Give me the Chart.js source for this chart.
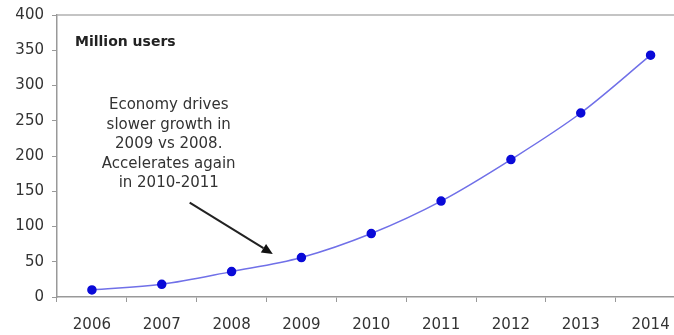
<!DOCTYPE html>
<html><head><meta charset="utf-8">
<script src="https://cdn.jsdelivr.net/npm/chart.js@4/dist/chart.umd.min.js"></script>
<style>html,body{margin:0;padding:0;background:#fff;overflow:hidden;width:674px;height:335px}</style>
</head><body>
<canvas id="c" width="691" height="335"></canvas>
<script>
const years = ['2006','2007','2008','2009','2010','2011','2012','2013','2014'];
const users = [10, 18, 36, 56, 90, 136, 195, 261, 343];
const yTicks = [0, 50, 100, 150, 200, 250, 300, 350, 400];
const unitLabel = 'Million users';
const noteLines = ['Economy drives', 'slower growth in', '2009 vs 2008.', 'Accelerates again', 'in 2010-2011'];
// annotation anchors in data space (category index, value)
const noteAnchor = [1.10, 272];
const arrowFrom = [1.40, 134];
const arrowTo = [2.59, 61];

const FONT = '"DejaVu Sans", Verdana, sans-serif';

const annot = {
  id: 'annot',
  afterDraw(chart) {
    const {ctx, chartArea: a, scales: {x, y}} = chart;
    ctx.save();
    // top border line
    ctx.strokeStyle = '#b0b0b0'; ctx.lineWidth = 1.5;
    ctx.beginPath(); ctx.moveTo(a.left, y.getPixelForValue(400)); ctx.lineTo(a.right, y.getPixelForValue(400)); ctx.stroke();
    // unit label
    ctx.fillStyle = '#222'; ctx.font = 'bold 14px ' + FONT;
    ctx.textBaseline = 'middle'; ctx.textAlign = 'left';
    ctx.fillText(unitLabel, a.left + 18, y.getPixelForValue(361));
    // note
    ctx.fillStyle = '#333'; ctx.font = '15px ' + FONT; ctx.textAlign = 'center';
    const cx = x.getPixelForValue(noteAnchor[0]);
    let cy = y.getPixelForValue(noteAnchor[1]);
    noteLines.forEach((t, i) => ctx.fillText(t, cx, cy + i * 19.5));
    // arrow
    const x1 = x.getPixelForValue(arrowFrom[0]), y1 = y.getPixelForValue(arrowFrom[1]);
    const x2 = x.getPixelForValue(arrowTo[0]), y2 = y.getPixelForValue(arrowTo[1]);
    const ang = Math.atan2(y2 - y1, x2 - x1);
    const hl = 11, hw = 5;
    const bx = x2 - hl * Math.cos(ang), by = y2 - hl * Math.sin(ang);
    ctx.strokeStyle = '#222'; ctx.lineWidth = 2;
    ctx.beginPath(); ctx.moveTo(x1, y1); ctx.lineTo(bx, by); ctx.stroke();
    ctx.fillStyle = '#111';
    ctx.beginPath();
    ctx.moveTo(x2, y2);
    ctx.lineTo(bx + hw * Math.sin(ang), by - hw * Math.cos(ang));
    ctx.lineTo(bx - hw * Math.sin(ang), by + hw * Math.cos(ang));
    ctx.closePath(); ctx.fill();
    ctx.restore();
  }
};

new Chart(document.getElementById('c'), {
  type: 'line',
  data: {
    labels: years,
    datasets: [{
      data: users,
      borderColor: '#7070e8',
      borderWidth: 1.5,
      cubicInterpolationMode: 'monotone',
      pointBackgroundColor: '#0a0ad8',
      pointBorderColor: '#0a0ad8',
      pointRadius: 4,
      fill: false
    }]
  },
  options: {
    responsive: false,
    animation: false,
    layout: {padding: {top: 15, right: 0, left: 0, bottom: 0}},
    plugins: {legend: {display: false}, tooltip: {enabled: false}},
    scales: {
      x: {
        offset: true,
        grid: {offset: true, drawOnChartArea: false, drawTicks: true, tickLength: 5, tickColor: '#999'},
        border: {display: true, color: '#999', width: 1.5},
        ticks: {color: '#333', font: {family: FONT, size: 15}, padding: 14, maxRotation: 0, autoSkip: false},
        afterFit(s) { s.height = 38; }
      },
      y: {
        min: 0, max: 400,
        afterBuildTicks(s) { s.ticks = yTicks.map(v => ({value: v})); },
        grid: {drawOnChartArea: false, drawTicks: true, tickLength: 5, tickColor: '#999'},
        border: {display: true, color: '#999', width: 1.5},
        ticks: {color: '#333', font: {family: FONT, size: 15, lineHeight: 1}, padding: 8},
        afterFit(s) { s.width = 57; s.paddingTop = 0; s.paddingBottom = 0; }
      }
    }
  },
  plugins: [annot]
});
</script>
</body></html>
